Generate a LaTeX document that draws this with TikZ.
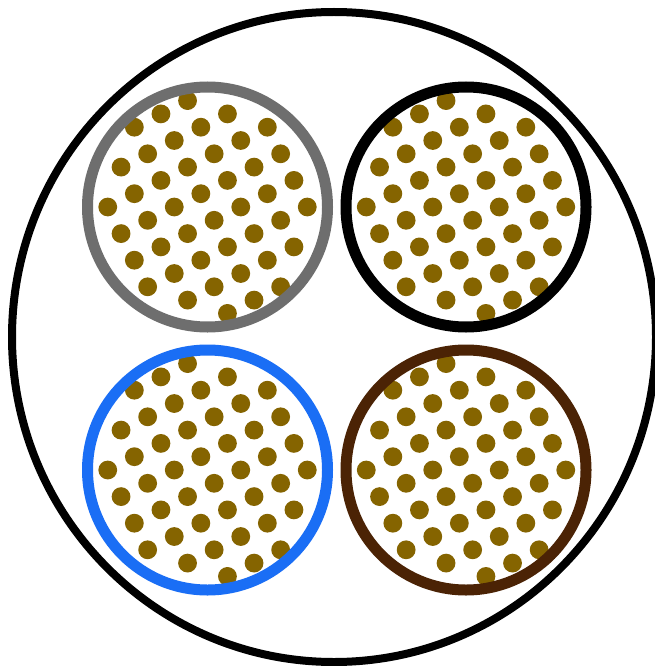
\documentclass[tikz,border=0pt]{standalone}
\definecolor{fibrebrown}{RGB}{133,100,0}
\definecolor{ringgray}{RGB}{110,110,110}
\definecolor{ringblue}{RGB}{26,110,245}
\definecolor{ringbrown}{RGB}{75,35,5}
\usepackage{tikz}
\usetikzlibrary{calc}

% one bundle of fibres round a centre coordinate
\newcommand{\fibrebundle}[1]{%
  \foreach \i in {-4,...,4}{
    \foreach \j in {-5,...,4}{
      \pgfmathsetmacro{\px}{26.6*\i+13.3*(\j+0.5)}
      \pgfmathsetmacro{\py}{-13.3*\i+26.6*(\j+0.5)}
      \pgfmathparse{veclen(\px,\py)<112 ? 1 : 0}
      \ifnum\pgfmathresult=1
        \fill[fibre] ($(#1)+(\px,\py)$) circle (9.4pt);
      \fi
    }
  }
}

\begin{document}
\begin{tikzpicture}[
        x=1pt, y=-1pt,
        fibre/.style={fill=fibrebrown},
        sheath/.style={draw=black, line width=8pt},
        ring/.style={line width=11pt}
      ]
        \useasboundingbox (0,0) rectangle (655,666);
        \fill[white] (0,0) rectangle (655,666);
        \clip (0,0) rectangle (655,666);
        \coordinate (cable) at (334,337);
        \coordinate (tl) at (207.5,207);
        \coordinate (tr) at (466,207);
        \coordinate (bl) at (207.5,470);
        \coordinate (br) at (466,470);
        \draw[sheath] (cable) ellipse [x radius=322pt, y radius=325pt];
        \fibrebundle{tl}
        \fibrebundle{tr}
        \fibrebundle{bl}
        \fibrebundle{br}
        \draw[ring, ringgray] (tl) circle (120pt);
        \draw[ring, black] (tr) circle (120pt);
        \draw[ring, ringblue] (bl) circle (120pt);
        \draw[ring, ringbrown] (br) circle (120pt);
      \end{tikzpicture}
\end{document}
